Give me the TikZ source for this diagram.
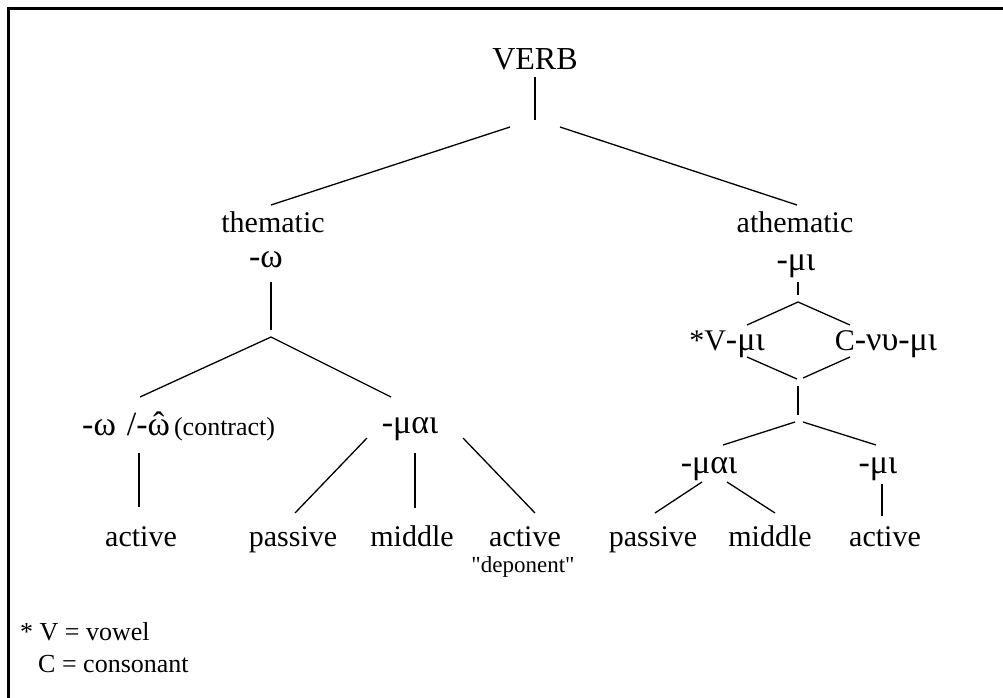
\documentclass[tikz,border=0pt]{standalone}
\usepackage{fontspec}
\setmainfont{Liberation Serif}
\newfontfamily\plainserif{Liberation Serif}
\newcommand{\gk}[1]{{\fontsize{34}{40}\selectfont #1}}
\begin{document}
\begin{tikzpicture}[x=1pt,y=-1pt,
  lbl/.style={inner sep=0pt, anchor=base, font=\fontsize{30}{34}\selectfont},
  sm/.style={inner sep=0pt, anchor=base, font=\plainserif\fontsize{23}{27}\selectfont},
  note/.style={inner sep=0pt, anchor=base west, font=\fontsize{26}{30}\selectfont},
  edge/.style={line width=1.3pt},
  frame/.style={line width=3pt}]
\useasboundingbox (0,0) rectangle (1003,698);
\draw[frame] (8,698) -- (8,9) -- (1003,9);

% nodes
\node[lbl, font=\fontsize{32}{36}\selectfont] (verb) at (535,70) {VERB};
\node[lbl] (them) at (273,232) {thematic};
\node[lbl] (omega) at (266,267) {\gk{-ω}};
\node[lbl] (athem) at (795,232) {athematic};
\node[lbl] (mi) at (796,270) {\gk{-μι}};
\node[lbl] (vmi) at (727,350) {*V\gk{-μι}};
\node[lbl] (cnumi) at (886,350) {C\gk{-νυ-μι}};
\node[lbl, anchor=base west] (contr) at (82,435) {\gk{-ω\hspace{11pt}/-\ooalign{ω\cr\hidewidth\char"02C6\hidewidth\cr}}\hspace{4pt}{\fontsize{26}{30}\selectfont(contract)}};
\node[lbl] (mai1) at (410,433) {\gk{-μαι}};
\node[lbl] (act1) at (141,546) {active};
\node[lbl] (pas1) at (293,546) {passive};
\node[lbl] (mid1) at (412,546) {middle};
\node[lbl] (act2) at (525,546) {active};
\node[sm] (dep) at (523,572) {"deponent"};
\node[lbl] (mai2) at (709,473) {\gk{-μαι}};
\node[lbl] (mi2) at (878,473) {\gk{-μι}};
\node[lbl] (pas2) at (653,546) {passive};
\node[lbl] (mid2) at (770,546) {middle};
\node[lbl] (act3) at (885,546) {active};
\node[note] (fn1) at (20,640) {* V = vowel};
\node[note] (fn2) at (38,672) {C = consonant};

% junction coordinates
\coordinate (v1) at (535,77);   \coordinate (v2) at (535,120);
\coordinate (tl) at (510,127);  \coordinate (tle) at (271,205);
\coordinate (tr) at (560,127);  \coordinate (tre) at (797,205);
\coordinate (o1) at (271,282);  \coordinate (o2) at (271,330);
\coordinate (oa) at (271,337);
\coordinate (ol) at (140,397);  \coordinate (or) at (391,397);
\coordinate (c1) at (139,453);  \coordinate (c2) at (139,507);
\coordinate (m1a) at (367,438); \coordinate (m1b) at (295,513);
\coordinate (m2a) at (415,453); \coordinate (m2b) at (415,508);
\coordinate (m3a) at (463,438); \coordinate (m3b) at (535,513);
\coordinate (i1) at (798,282);  \coordinate (i2) at (798,295);
\coordinate (da) at (798,302);
\coordinate (dl) at (747,325);  \coordinate (dr) at (850,325);
\coordinate (dl2) at (747,357); \coordinate (dbl) at (797,379);
\coordinate (dr2) at (850,357); \coordinate (dbr) at (803,378);
\coordinate (k1) at (798,386);  \coordinate (k2) at (798,415);
\coordinate (kl) at (795,422);  \coordinate (kle) at (723,445);
\coordinate (kr) at (803,422);  \coordinate (kre) at (876,445);
\coordinate (p1a) at (702,482); \coordinate (p1b) at (655,513);
\coordinate (p2a) at (727,482); \coordinate (p2b) at (775,513);
\coordinate (q1) at (882,484);  \coordinate (q2) at (882,516);

% connectors
\draw[edge] (v1) -- (v2);
\draw[edge] (tl) -- (tle);
\draw[edge] (tr) -- (tre);
\draw[edge] (o1) -- (o2);
\draw[edge] (ol) -- (oa) -- (or);
\draw[edge] (c1) -- (c2);
\draw[edge] (m1a) -- (m1b);
\draw[edge] (m2a) -- (m2b);
\draw[edge] (m3a) -- (m3b);
\draw[edge] (i1) -- (i2);
\draw[edge] (dl) -- (da) -- (dr);
\draw[edge] (dl2) -- (dbl);
\draw[edge] (dr2) -- (dbr);
\draw[edge] (k1) -- (k2);
\draw[edge] (kl) -- (kle);
\draw[edge] (kr) -- (kre);
\draw[edge] (p1a) -- (p1b);
\draw[edge] (p2a) -- (p2b);
\draw[edge] (q1) -- (q2);
\end{tikzpicture}
\end{document}
